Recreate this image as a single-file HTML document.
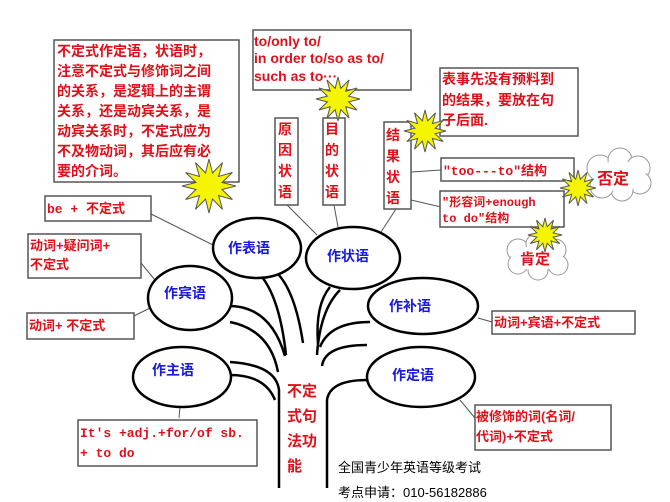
<!DOCTYPE html>
<html><head><meta charset="utf-8"><style>
html,body{margin:0;padding:0;background:#fff;}
svg{display:block;}
.r{fill:#e0101a;font-family:"Liberation Sans","Noto Sans CJK SC",sans-serif;font-weight:bold;}
.m{fill:#e0101a;font-family:"Liberation Mono","Noto Sans CJK SC",monospace;font-weight:bold;}
.b{fill:#1a1adc;font-family:"Liberation Sans","Noto Sans CJK SC",sans-serif;font-weight:bold;font-size:14px;}
.box{fill:#fff;stroke:#555;stroke-width:1.5;}
.ln{stroke:#555;stroke-width:1;fill:none;}
.el{fill:#fff;stroke:#000;stroke-width:2.5;}
.tr{fill:none;stroke:#000;stroke-width:2.5;}
</style></head><body>
<svg width="670" height="502" viewBox="0 0 670 502" xmlns="http://www.w3.org/2000/svg">
<defs>
<polygon id="star" fill="#f5f500" stroke="#555" stroke-width="1" vector-effect="non-scaling-stroke" points="1,0 .483,.129 .866,.5 .354,.354 .5,.866 .129,.483 0,1 -.129,.483 -.5,.866 -.354,.354 -.866,.5 -.483,.129 -1,0 -.483,-.129 -.866,-.5 -.354,-.354 -.5,-.866 -.129,-.483 0,-1 .129,-.483 .5,-.866 .354,-.354 .866,-.5 .483,-.129"/>
</defs>
<rect width="670" height="502" fill="#fff"/>

<line class="ln" x1="151" y1="214" x2="215" y2="246"/>
<line class="ln" x1="141" y1="263" x2="155" y2="280"/>
<line class="ln" x1="134" y1="316" x2="150" y2="308"/>
<line class="ln" x1="287" y1="205" x2="317" y2="235"/>
<line class="ln" x1="334" y1="205" x2="338" y2="227"/>
<line class="ln" x1="396" y1="209" x2="381" y2="232"/>
<line class="ln" x1="411" y1="172" x2="441" y2="170"/>
<line class="ln" x1="411" y1="200" x2="441" y2="207"/>
<line class="ln" x1="478" y1="318" x2="492" y2="322"/>
<line class="ln" x1="460" y1="400" x2="475" y2="418"/>
<line class="ln" x1="180" y1="407" x2="179" y2="418"/>

<path class="tr" d="M279 488 L279 390 Q276 365 230 362"/>
<path class="tr" d="M230 375 Q265 375 275 400"/>
<path class="tr" d="M327 488 L327 400 Q330 380 367 380"/>
<path class="tr" d="M322 366 Q325 345 367 345"/>
<path class="tr" d="M278 372 Q270 330 230 322 M227 306 Q270 305 285 356"/>
<path class="tr" d="M262 277 Q280 300 286 355 M276 272 Q295 290 303 343"/>
<path class="tr" d="M318 344 Q315 305 330 287 M317 355 Q320 310 340 290"/>
<path class="tr" d="M320 347 Q330 322 370 322"/>

<ellipse class="el" cx="257" cy="248" rx="44" ry="30"/>
<ellipse class="el" cx="353" cy="258" rx="47" ry="31"/>
<ellipse class="el" cx="190" cy="298" rx="42" ry="32"/>
<ellipse class="el" cx="423" cy="306" rx="55" ry="28"/>
<ellipse class="el" cx="182" cy="377" rx="49" ry="30"/>
<ellipse class="el" cx="421" cy="377" rx="54" ry="30"/>
<text class="b" x="228" y="253">作表语</text>
<text class="b" x="327" y="261">作状语</text>
<text class="b" x="164" y="298">作宾语</text>
<text class="b" x="389" y="311">作补语</text>
<text class="b" x="152" y="375">作主语</text>
<text class="b" x="392" y="380">作定语</text>

<rect class="box" x="54" y="40" width="185" height="142"/>
<g class="r" font-size="14">
<text x="57" y="56">不定式作定语，状语时，</text>
<text x="57" y="76">注意不定式与修饰词之间</text>
<text x="57" y="96">的关系，是逻辑上的主谓</text>
<text x="57" y="116">关系，还是动宾关系，是</text>
<text x="57" y="136">动宾关系时，不定式应为</text>
<text x="57" y="156">不及物动词，其后应有必</text>
<text x="57" y="176">要的介词。</text>
</g>

<rect class="box" x="253" y="30" width="158" height="60"/>
<g class="r" font-size="14">
<text x="254" y="46">to/only to/</text>
<text x="254" y="63">in order to/so as to/</text>
<text x="254" y="81">such as to···</text>
</g>

<rect class="box" x="275" y="118" width="23" height="87"/>
<rect class="box" x="323" y="118" width="22" height="87"/>
<rect class="box" x="384" y="122" width="27" height="87"/>
<g class="r" font-size="14">
<text x="278" y="134">原</text><text x="278" y="155">因</text><text x="278" y="176">状</text><text x="278" y="197">语</text>
<text x="325" y="134">目</text><text x="325" y="155">的</text><text x="325" y="176">状</text><text x="325" y="197">语</text>
<text x="386" y="140">结</text><text x="386" y="161">果</text><text x="386" y="182">状</text><text x="386" y="203">语</text>
</g>

<rect class="box" x="440" y="68" width="138" height="68"/>
<g class="r" font-size="14">
<text x="442" y="84">表事先没有预料到</text>
<text x="442" y="105">的结果，要放在句</text>
<text x="442" y="125">子后面.</text>
</g>

<rect class="box" x="441" y="158" width="133" height="23"/>
<text class="m" font-size="13" x="443" y="175">"too---to"结构</text>
<rect class="box" x="440" y="191" width="124" height="36"/>
<text class="m" font-size="12" x="442" y="206">"形容词+enough</text>
<text class="m" font-size="12" x="442" y="222">to do"结构</text>

<rect class="box" x="45" y="196" width="106" height="25"/>
<text class="m" font-size="13" x="47" y="213">be + 不定式</text>
<rect class="box" x="28" y="234" width="113" height="44"/>
<g class="r" font-size="13"><text x="30" y="250">动词+疑问词+</text><text x="30" y="269">不定式</text></g>
<rect class="box" x="27" y="313" width="107" height="26"/>
<text class="r" font-size="13" x="29" y="330">动词+ 不定式</text>
<rect class="box" x="492" y="311" width="143" height="23"/>
<text class="r" font-size="13" x="494" y="327">动词+宾语+不定式</text>
<rect class="box" x="475" y="405" width="136" height="45"/>
<g class="r" font-size="13"><text x="476" y="421">被修饰的词(名词/</text><text x="476" y="441">代词)+不定式</text></g>
<rect class="box" x="78" y="420" width="179" height="46"/>
<g class="m" font-size="13"><text x="80" y="437">It's +adj.+for/of sb.</text><text x="80" y="457">+ to do</text></g>

<g fill="#fff" stroke="#999" stroke-width="1">
<circle cx="600" cy="168" r="13"/><circle cx="620" cy="160" r="12"/><circle cx="638" cy="168" r="12"/><circle cx="640" cy="183" r="11"/><circle cx="622" cy="190" r="11"/><circle cx="602" cy="186" r="12"/>
<circle cx="518" cy="250" r="11"/><circle cx="536" cy="244" r="10"/><circle cx="555" cy="250" r="11"/><circle cx="558" cy="265" r="10"/><circle cx="538" cy="270" r="10"/><circle cx="518" cy="264" r="10"/>
</g>
<ellipse cx="619" cy="176" rx="27" ry="15" fill="#fff"/>
<ellipse cx="537" cy="258" rx="26" ry="12" fill="#fff"/>
<text class="r" font-size="16" x="597" y="184">否定</text>
<text class="r" font-size="15" x="520" y="264">肯定</text>

<use href="#star" transform="translate(209,186) scale(27)"/>
<use href="#star" transform="translate(338,99) scale(22)"/>
<use href="#star" transform="translate(425,131) scale(21)"/>
<use href="#star" transform="translate(578,188) scale(18)"/>
<use href="#star" transform="translate(545,235) scale(17)"/>

<g class="r" font-size="15">
<text x="287" y="396">不定</text><text x="287" y="421">式句</text><text x="287" y="446">法功</text><text x="287" y="471">能</text>
</g>
<text x="338" y="472" font-size="13" font-family="'Liberation Sans','Noto Sans CJK SC',sans-serif" fill="#000">全国青少年英语等级考试</text>
<text x="338" y="497" font-size="13" font-family="'Liberation Sans','Noto Sans CJK SC',sans-serif" fill="#000">考点申请：010-56182886</text>
</svg>
</body></html>
